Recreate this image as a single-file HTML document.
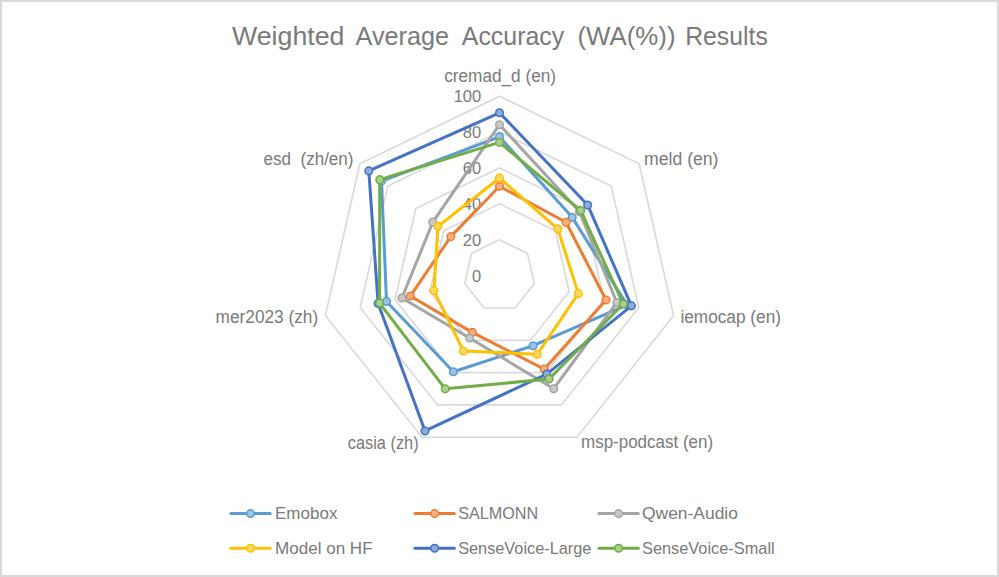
<!DOCTYPE html><html><head><meta charset="utf-8"><style>html,body{margin:0;padding:0;background:#fff;overflow:hidden;}svg{display:block;}text{font-family:"Liberation Sans",sans-serif;fill:#7A7A7A;white-space:pre;}</style></head><body>
<svg width="999" height="577" viewBox="0 0 999 577">
<rect x="1" y="1" width="997" height="575" fill="#fff" stroke="#D9D9D9" stroke-width="2"/>
<polygon points="499.50,239.72 527.43,253.23 534.32,283.58 515.00,307.93 484.00,307.93 464.68,283.58 471.57,253.23" fill="none" stroke="#D9D9D9" stroke-width="1.60" stroke-linejoin="miter"/>
<polygon points="499.50,203.84 555.35,230.86 569.15,291.57 530.50,340.25 468.50,340.25 429.85,291.57 443.65,230.86" fill="none" stroke="#D9D9D9" stroke-width="1.60" stroke-linejoin="miter"/>
<polygon points="499.50,167.96 583.28,208.49 603.97,299.55 545.99,372.58 453.01,372.58 395.03,299.55 415.72,208.49" fill="none" stroke="#D9D9D9" stroke-width="1.60" stroke-linejoin="miter"/>
<polygon points="499.50,132.08 611.21,186.12 638.80,307.54 561.49,404.91 437.51,404.91 360.20,307.54 387.79,186.12" fill="none" stroke="#D9D9D9" stroke-width="1.60" stroke-linejoin="miter"/>
<polygon points="499.50,96.20 639.14,163.75 673.62,315.52 576.99,437.23 422.01,437.23 325.38,315.52 359.86,163.75" fill="none" stroke="#D9D9D9" stroke-width="1.60" stroke-linejoin="miter"/>
<text id="tick0" x="472.03" y="281.50" font-size="16.50">0</text>
<text id="tick20" x="462.85" y="245.62" font-size="16.50">20</text>
<text id="tick40" x="462.85" y="209.74" font-size="16.50">40</text>
<text id="tick60" x="462.85" y="173.86" font-size="16.50">60</text>
<text id="tick80" x="462.85" y="137.98" font-size="16.50">80</text>
<text id="tick100" x="453.68" y="102.10" font-size="16.50">100</text>
<polygon points="499.50,136.80 572.20,217.37 627.04,304.84 533.11,345.70 453.39,371.79 386.49,301.51 381.53,181.10" fill="none" stroke="#5B9BD5" stroke-width="3.00" stroke-linejoin="round"/>
<circle cx="499.50" cy="136.80" r="3.80" fill="#9DC3E6" stroke="#5B9BD5" stroke-width="1.50"/>
<circle cx="572.20" cy="217.37" r="3.80" fill="#9DC3E6" stroke="#5B9BD5" stroke-width="1.50"/>
<circle cx="627.04" cy="304.84" r="3.80" fill="#9DC3E6" stroke="#5B9BD5" stroke-width="1.50"/>
<circle cx="533.11" cy="345.70" r="3.80" fill="#9DC3E6" stroke="#5B9BD5" stroke-width="1.50"/>
<circle cx="453.39" cy="371.79" r="3.80" fill="#9DC3E6" stroke="#5B9BD5" stroke-width="1.50"/>
<circle cx="386.49" cy="301.51" r="3.80" fill="#9DC3E6" stroke="#5B9BD5" stroke-width="1.50"/>
<circle cx="381.53" cy="181.10" r="3.80" fill="#9DC3E6" stroke="#5B9BD5" stroke-width="1.50"/>
<polygon points="499.50,186.30 566.07,222.28 606.02,300.02 544.32,369.08 472.29,332.35 410.29,296.05 450.85,236.63" fill="none" stroke="#ED7D31" stroke-width="3.00" stroke-linejoin="round"/>
<circle cx="499.50" cy="186.30" r="3.80" fill="#F4B183" stroke="#ED7D31" stroke-width="1.50"/>
<circle cx="566.07" cy="222.28" r="3.80" fill="#F4B183" stroke="#ED7D31" stroke-width="1.50"/>
<circle cx="606.02" cy="300.02" r="3.80" fill="#F4B183" stroke="#ED7D31" stroke-width="1.50"/>
<circle cx="544.32" cy="369.08" r="3.80" fill="#F4B183" stroke="#ED7D31" stroke-width="1.50"/>
<circle cx="472.29" cy="332.35" r="3.80" fill="#F4B183" stroke="#ED7D31" stroke-width="1.50"/>
<circle cx="410.29" cy="296.05" r="3.80" fill="#F4B183" stroke="#ED7D31" stroke-width="1.50"/>
<circle cx="450.85" cy="236.63" r="3.80" fill="#F4B183" stroke="#ED7D31" stroke-width="1.50"/>
<polygon points="499.50,124.70 579.41,211.59 616.84,302.50 553.74,388.73 469.58,338.00 401.92,297.97 432.79,222.16" fill="none" stroke="#A5A5A5" stroke-width="3.00" stroke-linejoin="round"/>
<circle cx="499.50" cy="124.70" r="3.80" fill="#C9C9C9" stroke="#A5A5A5" stroke-width="1.50"/>
<circle cx="579.41" cy="211.59" r="3.80" fill="#C9C9C9" stroke="#A5A5A5" stroke-width="1.50"/>
<circle cx="616.84" cy="302.50" r="3.80" fill="#C9C9C9" stroke="#A5A5A5" stroke-width="1.50"/>
<circle cx="553.74" cy="388.73" r="3.80" fill="#C9C9C9" stroke="#A5A5A5" stroke-width="1.50"/>
<circle cx="469.58" cy="338.00" r="3.80" fill="#C9C9C9" stroke="#A5A5A5" stroke-width="1.50"/>
<circle cx="401.92" cy="297.97" r="3.80" fill="#C9C9C9" stroke="#A5A5A5" stroke-width="1.50"/>
<circle cx="432.79" cy="222.16" r="3.80" fill="#C9C9C9" stroke="#A5A5A5" stroke-width="1.50"/>
<polygon points="499.50,178.00 557.85,228.86 578.30,293.67 537.24,354.33 463.38,350.95 433.84,290.65 438.01,226.34" fill="none" stroke="#FFC000" stroke-width="3.00" stroke-linejoin="round"/>
<circle cx="499.50" cy="178.00" r="3.80" fill="#FFD966" stroke="#FFC000" stroke-width="1.50"/>
<circle cx="557.85" cy="228.86" r="3.80" fill="#FFD966" stroke="#FFC000" stroke-width="1.50"/>
<circle cx="578.30" cy="293.67" r="3.80" fill="#FFD966" stroke="#FFC000" stroke-width="1.50"/>
<circle cx="537.24" cy="354.33" r="3.80" fill="#FFD966" stroke="#FFC000" stroke-width="1.50"/>
<circle cx="463.38" cy="350.95" r="3.80" fill="#FFD966" stroke="#FFC000" stroke-width="1.50"/>
<circle cx="433.84" cy="290.65" r="3.80" fill="#FFD966" stroke="#FFC000" stroke-width="1.50"/>
<circle cx="438.01" cy="226.34" r="3.80" fill="#FFD966" stroke="#FFC000" stroke-width="1.50"/>
<polygon points="499.50,112.80 587.67,204.97 631.46,305.85 546.73,374.12 425.02,430.96 378.10,303.43 368.81,170.91" fill="none" stroke="#4472C4" stroke-width="3.00" stroke-linejoin="round"/>
<circle cx="499.50" cy="112.80" r="3.80" fill="#8FAADC" stroke="#4472C4" stroke-width="1.50"/>
<circle cx="587.67" cy="204.97" r="3.80" fill="#8FAADC" stroke="#4472C4" stroke-width="1.50"/>
<circle cx="631.46" cy="305.85" r="3.80" fill="#8FAADC" stroke="#4472C4" stroke-width="1.50"/>
<circle cx="546.73" cy="374.12" r="3.80" fill="#8FAADC" stroke="#4472C4" stroke-width="1.50"/>
<circle cx="425.02" cy="430.96" r="3.80" fill="#8FAADC" stroke="#4472C4" stroke-width="1.50"/>
<circle cx="378.10" cy="303.43" r="3.80" fill="#8FAADC" stroke="#4472C4" stroke-width="1.50"/>
<circle cx="368.81" cy="170.91" r="3.80" fill="#8FAADC" stroke="#4472C4" stroke-width="1.50"/>
<polygon points="499.50,142.40 580.65,210.59 623.25,303.97 549.06,378.97 445.21,388.85 379.58,303.09 379.73,179.66" fill="none" stroke="#70AD47" stroke-width="3.00" stroke-linejoin="round"/>
<circle cx="499.50" cy="142.40" r="3.80" fill="#A9D18E" stroke="#70AD47" stroke-width="1.50"/>
<circle cx="580.65" cy="210.59" r="3.80" fill="#A9D18E" stroke="#70AD47" stroke-width="1.50"/>
<circle cx="623.25" cy="303.97" r="3.80" fill="#A9D18E" stroke="#70AD47" stroke-width="1.50"/>
<circle cx="549.06" cy="378.97" r="3.80" fill="#A9D18E" stroke="#70AD47" stroke-width="1.50"/>
<circle cx="445.21" cy="388.85" r="3.80" fill="#A9D18E" stroke="#70AD47" stroke-width="1.50"/>
<circle cx="379.58" cy="303.09" r="3.80" fill="#A9D18E" stroke="#70AD47" stroke-width="1.50"/>
<circle cx="379.73" cy="179.66" r="3.80" fill="#A9D18E" stroke="#70AD47" stroke-width="1.50"/>
<text id="t1" x="232.00" y="44.80" font-size="26.00" textLength="112.42" lengthAdjust="spacingAndGlyphs">Weighted</text>
<text id="t2" x="355.60" y="44.80" font-size="26.00" textLength="93.35" lengthAdjust="spacingAndGlyphs">Average</text>
<text id="t3" x="461.80" y="44.80" font-size="26.00" textLength="102.44" lengthAdjust="spacingAndGlyphs">Accuracy</text>
<text id="t4" x="577.40" y="44.80" font-size="26.00" textLength="98.16" lengthAdjust="spacingAndGlyphs">(WA(%))</text>
<text id="t5" x="685.20" y="44.80" font-size="26.00" textLength="82.58" lengthAdjust="spacingAndGlyphs">Results</text>
<text id="a0" x="444.20" y="82.10" font-size="17.50" textLength="111.82" lengthAdjust="spacingAndGlyphs">cremad_d (en)</text>
<text id="a1" x="644.00" y="164.50" font-size="17.50" textLength="74.50" lengthAdjust="spacingAndGlyphs">meld (en)</text>
<text id="a2" x="680.40" y="322.80" font-size="17.50" textLength="100.61" lengthAdjust="spacingAndGlyphs">iemocap (en)</text>
<text id="a3" x="581.00" y="448.20" font-size="17.50" textLength="132.11" lengthAdjust="spacingAndGlyphs">msp-podcast (en)</text>
<text id="a4" x="347.80" y="448.50" font-size="17.50" textLength="70.82" lengthAdjust="spacingAndGlyphs">casia (zh)</text>
<text id="a5" x="215.60" y="322.80" font-size="17.50" textLength="102.56" lengthAdjust="spacingAndGlyphs">mer2023 (zh)</text>
<text id="a6" x="263.60" y="164.60" font-size="17.50" textLength="89.87" lengthAdjust="spacingAndGlyphs">esd  (zh/en)</text>
<text id="l0" x="275.00" y="519.00" font-size="16.60" textLength="62.41" lengthAdjust="spacingAndGlyphs">Emobox</text>
<text id="l1" x="458.20" y="519.00" font-size="16.60" textLength="80.02" lengthAdjust="spacingAndGlyphs">SALMONN</text>
<text id="l2" x="642.00" y="519.00" font-size="16.60" textLength="95.90" lengthAdjust="spacingAndGlyphs">Qwen-Audio</text>
<text id="l3" x="275.00" y="554.00" font-size="16.60" textLength="97.56" lengthAdjust="spacingAndGlyphs">Model on HF</text>
<text id="l4" x="458.20" y="554.00" font-size="16.60" textLength="133.11" lengthAdjust="spacingAndGlyphs">SenseVoice-Large</text>
<text id="l5" x="642.00" y="554.00" font-size="16.60" textLength="132.65" lengthAdjust="spacingAndGlyphs">SenseVoice-Small</text>
<line x1="230.80" y1="513.60" x2="270.20" y2="513.60" stroke="#5B9BD5" stroke-width="3.00" stroke-linecap="round"/>
<circle cx="250.50" cy="513.60" r="3.80" fill="#9DC3E6" stroke="#5B9BD5" stroke-width="1.50"/>
<line x1="414.90" y1="513.60" x2="454.30" y2="513.60" stroke="#ED7D31" stroke-width="3.00" stroke-linecap="round"/>
<circle cx="434.60" cy="513.60" r="3.80" fill="#F4B183" stroke="#ED7D31" stroke-width="1.50"/>
<line x1="598.90" y1="513.60" x2="638.30" y2="513.60" stroke="#A5A5A5" stroke-width="3.00" stroke-linecap="round"/>
<circle cx="618.60" cy="513.60" r="3.80" fill="#C9C9C9" stroke="#A5A5A5" stroke-width="1.50"/>
<line x1="230.80" y1="548.20" x2="270.20" y2="548.20" stroke="#FFC000" stroke-width="3.00" stroke-linecap="round"/>
<circle cx="250.50" cy="548.20" r="3.80" fill="#FFD966" stroke="#FFC000" stroke-width="1.50"/>
<line x1="414.90" y1="548.20" x2="454.30" y2="548.20" stroke="#4472C4" stroke-width="3.00" stroke-linecap="round"/>
<circle cx="434.60" cy="548.20" r="3.80" fill="#8FAADC" stroke="#4472C4" stroke-width="1.50"/>
<line x1="598.90" y1="548.20" x2="638.30" y2="548.20" stroke="#70AD47" stroke-width="3.00" stroke-linecap="round"/>
<circle cx="618.60" cy="548.20" r="3.80" fill="#A9D18E" stroke="#70AD47" stroke-width="1.50"/>
</svg></body></html>
